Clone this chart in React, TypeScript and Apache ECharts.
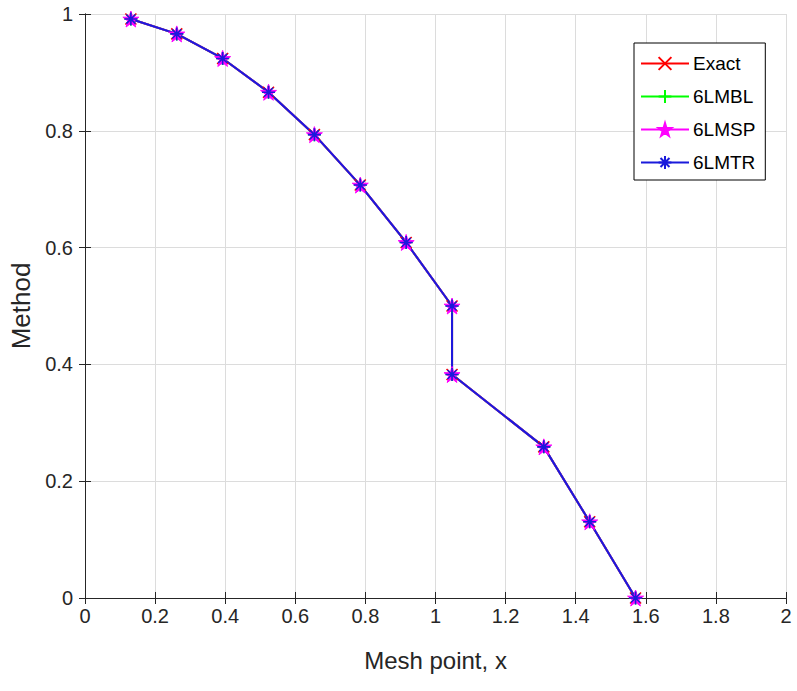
import React, { useEffect, useRef } from "react";
import * as echarts from "echarts";

const xValues = [0.1309, 0.2618, 0.3927, 0.5236, 0.6545, 0.7854, 0.9163, 1.0472, 1.0472, 1.309, 1.4399, 1.5708];
const exactY = [0.9914, 0.9659, 0.9239, 0.866, 0.7934, 0.7071, 0.6088, 0.5, 0.3827, 0.2588, 0.1305, 0.0];
const lmblY = [0.9914, 0.9659, 0.9239, 0.866, 0.7934, 0.7071, 0.6088, 0.5, 0.3827, 0.2588, 0.1305, 0.0];
const lmspY = [0.9914, 0.9659, 0.9239, 0.866, 0.7934, 0.7071, 0.6088, 0.5, 0.3827, 0.2588, 0.1305, 0.0];
const lmtrY = [0.9914, 0.9659, 0.9239, 0.866, 0.7934, 0.7071, 0.6088, 0.5, 0.3827, 0.2588, 0.1305, 0.0];
const seriesNames = ["Exact", "6LMBL", "6LMSP", "6LMTR"];

const FONT = "Liberation Sans, Arial, sans-serif";
const AX = "#262626";

const X_SYM = "path://M0,0L10,10M10,0L0,10";
const PLUS_SYM = "path://M5,0L5,10M0,5L10,5";
const AST_SYM = "path://M5,0L5,10M0,5L10,5M1.5,1.5L8.5,8.5M8.5,1.5L1.5,8.5";
const STAR_SYM = "path://M50,0L61,35L98,35L68,57L79,91L50,70L21,91L32,57L2,35L39,35Z";

export default function App() {
  const ref = useRef<HTMLDivElement>(null);
  useEffect(() => {
    if (!ref.current) return;
    const chart = echarts.init(ref.current, null, { renderer: "svg" });
    const mk = (ys: number[]) => xValues.map((x, i) => [x, ys[i]]);
    const line = (name: string, ys: number[], color: string, symbol: string, size: number, filled: boolean) => ({
      name,
      type: "line",
      data: mk(ys),
      symbol,
      symbolSize: size,
      showAllSymbol: true,
      clip: false,
      lineStyle: { color, width: 2 },
      itemStyle: filled
        ? { color, borderColor: color, borderWidth: 1 }
        : { color: "rgba(0,0,0,0)", borderColor: color, borderWidth: 1.6 },
      emphasis: { disabled: true },
    });
    const axisCommon = {
      axisLine: { show: true, lineStyle: { color: AX, width: 1 } },
      axisTick: { show: true, inside: true, length: 6, lineStyle: { color: AX } },
    };
    chart.setOption({
      animation: false,
      backgroundColor: "#ffffff",
      grid: { left: 85, right: 11, top: 14, bottom: 93 },
      legend: {
        data: seriesNames,
        orient: "vertical",
        left: 634,
        top: 43,
        width: 130,
        padding: [11, 10, 8, 6],
        itemWidth: 48,
        itemHeight: 16,
        itemGap: 14,
        borderColor: "#000",
        borderWidth: 1,
        backgroundColor: "#fff",
        borderRadius: 0,
        textStyle: { fontFamily: FONT, fontSize: 19, color: "#000", padding: [0, 0, 0, -1] },
        selectedMode: false,
      },
      xAxis: [
        {
          type: "value",
          min: 0,
          max: 2,
          interval: 0.2,
          position: "bottom",
          name: "Mesh point, x",
          nameLocation: "middle",
          nameGap: 50,
          nameTextStyle: { fontFamily: FONT, fontSize: 24, color: AX },
          axisLabel: { fontFamily: FONT, fontSize: 20, color: AX, margin: 8 },
          splitLine: { show: true, lineStyle: { color: "#dcdcdc", width: 1 } },
          ...axisCommon,
        },
        {
          type: "value",
          min: 0,
          max: 2,
          interval: 0.2,
          position: "top",
          axisLabel: { show: false },
          splitLine: { show: false },
          ...axisCommon,
        },
      ],
      yAxis: [
        {
          type: "value",
          min: 0,
          max: 1,
          interval: 0.2,
          position: "left",
          name: "Method",
          nameLocation: "middle",
          nameGap: 46,
          nameTextStyle: { fontFamily: FONT, fontSize: 26, color: AX },
          axisLabel: { fontFamily: FONT, fontSize: 20, color: AX, margin: 12 },
          splitLine: { show: true, lineStyle: { color: "#dcdcdc", width: 1 } },
          ...axisCommon,
        },
        {
          type: "value",
          min: 0,
          max: 1,
          interval: 0.2,
          position: "right",
          axisLabel: { show: false },
          splitLine: { show: false },
          ...axisCommon,
        },
      ],
      series: [
        line(seriesNames[0], exactY, "#ff0000", X_SYM, 11, false),
        line(seriesNames[1], lmblY, "#00ff00", PLUS_SYM, 13, false),
        line(seriesNames[2], lmspY, "#ff00ff", STAR_SYM, 16, true),
        line(seriesNames[3], lmtrY, "#1a1adb", AST_SYM, 13, false),
      ],
    });
    return () => chart.dispose();
  }, []);
  return <div ref={ref} style={{ width: 797, height: 691, position: "absolute", left: 0, top: 0 }} />;
}
